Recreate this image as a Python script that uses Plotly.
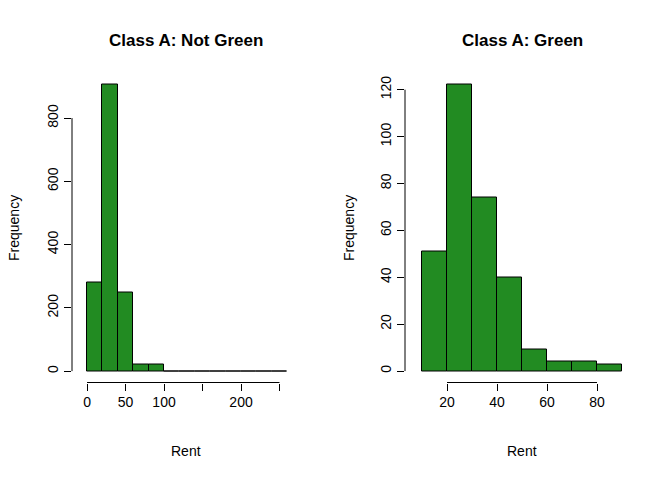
import plotly.graph_objects as go

left_edges = [0, 20, 40, 60, 80, 100, 120, 140, 160, 180, 200, 220, 240]
left_counts = [280, 905, 250, 20, 20, 0, 0, 0, 0, 0, 0, 0, 0]
right_edges = [10, 20, 30, 40, 50, 60, 70, 80]
right_counts = [51, 122, 74, 40, 9, 4, 4, 3]

W, H = 656, 464
OFF = 8
def px(x): return (x - OFF) / W
def py(y): return 1 - (y - OFF) / H

fig = go.Figure()
green = '#228B22'
fig.add_trace(go.Bar(x=[e + 10 for e in left_edges], y=left_counts, width=20,
                     marker=dict(color=green, line=dict(color='black', width=1)),
                     xaxis='x', yaxis='y', showlegend=False))
fig.add_trace(go.Bar(x=[e + 5 for e in right_edges], y=right_counts, width=10,
                     marker=dict(color=green, line=dict(color='black', width=1)),
                     xaxis='x2', yaxis='y2', showlegend=False))

font = dict(family='Liberation Sans, Arial', size=14, color='black')
ydom = [py(382.5), py(73.5)]
common = dict(showgrid=False, zeroline=False, showline=False, ticks='outside',
              ticklen=7, tickcolor='black', tickfont=font)
fig.update_layout(
    width=W, height=H, margin=dict(l=0, r=0, t=0, b=0),
    plot_bgcolor='white', paper_bgcolor='white', font=font, bargap=0,
    xaxis=dict(domain=[px(72), px(300)], range=[-19.5, 276.6],
               tickvals=[0, 50, 100, 150, 200, 250],
               ticktext=['0', '50', '100', '', '200', ''], **common),
    yaxis=dict(domain=ydom, range=[-36, 941], tickvals=[0, 200, 400, 600, 800],
               tickangle=-90, anchor='x', **common),
    xaxis2=dict(domain=[px(405), px(640)], range=[3.2, 97.2], anchor='y2',
                tickvals=[20, 40, 60, 80], **common),
    yaxis2=dict(domain=ydom, range=[-4.88, 126.9], tickvals=[0, 20, 40, 60, 80, 100, 120],
                tickangle=-90, anchor='x2', **common),
)
fig.add_shape(type='line', xref='x', yref='paper', x0=0, x1=250, y0=ydom[0], y1=ydom[0], line=dict(color='black', width=1))
fig.add_shape(type='line', xref='paper', yref='y', x0=px(72), x1=px(72), y0=0, y1=800, line=dict(color='black', width=1))
fig.add_shape(type='line', xref='x2', yref='paper', x0=20, x1=80, y0=ydom[0], y1=ydom[0], line=dict(color='black', width=1))
fig.add_shape(type='line', xref='paper', yref='y2', x0=px(405), x1=px(405), y0=0, y1=120, line=dict(color='black', width=1))

ann = [
    dict(text='<b>Class A: Not Green</b>', x=px(186), y=py(41), size=17),
    dict(text='<b>Class A: Green</b>', x=px(522), y=py(41), size=17),
    dict(text='Rent', x=px(186), y=py(451), size=14),
    dict(text='Rent', x=px(522), y=py(451), size=14),
]
for a in ann:
    fig.add_annotation(text=a['text'], x=a['x'], y=a['y'], xref='paper', yref='paper',
                       xanchor='center', yanchor='middle', showarrow=False,
                       font=dict(family=font['family'], size=a['size'], color='black'))
for xx in (14, 349):
    fig.add_annotation(text='Frequency', x=px(xx), y=py(228), xref='paper', yref='paper',
                       xanchor='center', yanchor='middle',
                       showarrow=False, textangle=-90, font=font)
fig.write_html('out.html')
